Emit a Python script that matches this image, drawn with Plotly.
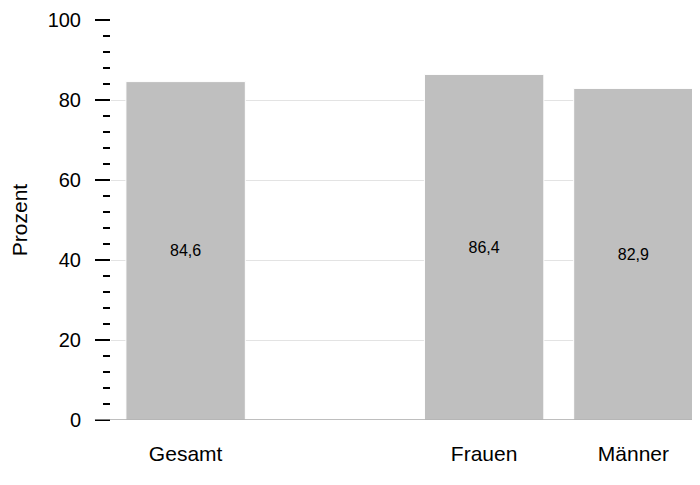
import plotly.graph_objects as go

categories = ["Gesamt", " ", "Frauen", "Männer"]
values = [84.6, None, 86.4, 82.9]
value_labels = ["84,6", "", "86,4", "82,9"]
y_tickvals = [0, 20, 40, 60, 80, 100]
y_ticktext = ["0", "20", "40", "60", "80", "100"]

fig = go.Figure()
fig.add_trace(go.Bar(
    x=categories, y=values, text=value_labels,
    textposition="inside", insidetextanchor="middle",
    textfont=dict(size=16, color="#000000", family="Liberation Sans, Arial"),
    marker=dict(color="#bfbfbf", line=dict(color="#ffffff", width=1)),
    hoverinfo="skip",
))

fig.update_layout(
    width=700, height=485,
    margin=dict(l=103, r=0, t=12, b=73, autoexpand=False),
    paper_bgcolor="white", plot_bgcolor="white",
    bargap=0.2,
    showlegend=False,
    font=dict(family="Liberation Sans, Arial", size=19, color="#000000"),
    uniformtext=dict(mode=False),
)
fig.update_xaxes(
    type="category", range=[-0.5, 3.5],
    showgrid=False, showline=False, ticks="",
    ticklabelstandoff=19, tickfont=dict(size=21), automargin=False,
)
fig.update_yaxes(
    range=[0, 100], tickvals=y_tickvals, ticktext=y_ticktext,
    showgrid=True, gridcolor="#e3e3e3", gridwidth=1,
    zeroline=False, showline=False, automargin=False,
    ticks="outside", ticklen=15, tickwidth=2, tickcolor="#000000",
    ticklabelstandoff=10, tickfont=dict(size=20),
    minor=dict(dtick=4, ticks="outside", ticklen=7, tickwidth=2, tickcolor="#000000", showgrid=False),
    title=dict(text="Prozent", font=dict(size=21), standoff=16),
)
fig.add_shape(type="line", xref="paper", yref="y", x0=-0.027, x1=1, y0=0, y1=0,
              line=dict(color="#a8a8a8", width=1.5))

fig.write_html("out.html")
